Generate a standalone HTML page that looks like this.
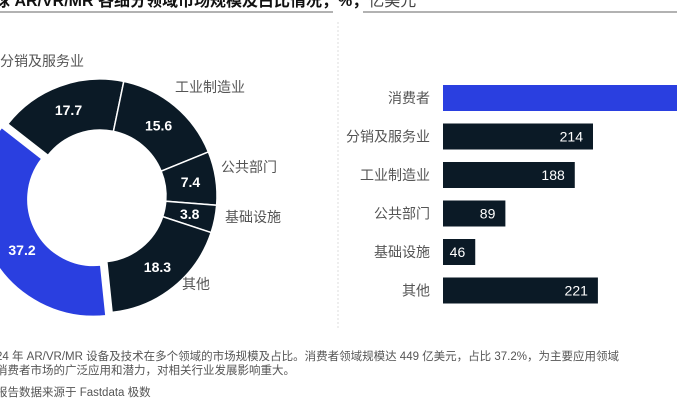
<!DOCTYPE html>
<html><head><meta charset="utf-8"><style>
body{margin:0;width:677px;height:400px;overflow:hidden;background:#fff;font-family:"Liberation Sans","Noto Sans CJK SC",sans-serif}
svg{position:absolute;left:0;top:0}
</style></head><body>
<svg width="677" height="400">
<text x="-6" y="6" font-size="16" font-weight="bold" fill="#111">球 AR/VR/MR 各细分领域市场规模及占比情况，%，<tspan font-weight="normal" fill="#444">亿美元</tspan></text>
<line x1="0" y1="12" x2="333" y2="12" stroke="#999" stroke-width="1.5"/>
<line x1="363" y1="12" x2="677" y2="12" stroke="#999" stroke-width="1.5"/>
<line x1="338" y1="22" x2="338" y2="330" stroke="#ddd" stroke-dasharray="2,2"/>
<g id="donut"></g>
<g id="bars"></g>
<text x="-4" y="360" font-size="11.5" fill="#555">24 年 AR/VR/MR 设备及技术在多个领域的市场规模及占比。消费者领域规模达 449 亿美元，占比 37.2%，为主要应用领域</text>
<text x="-4" y="374" font-size="11.5" fill="#555">消费者市场的广泛应用和潜力，对相关行业发展影响重大。</text>
<text x="-4" y="396" font-size="11.5" fill="#555">报告数据来源于 Fastdata 极数</text>
</svg>
<script>
const NS="http://www.w3.org/2000/svg";
const donutCats=["分销及服务业","工业制造业","公共部门","基础设施","其他","消费者"];
const donutVals=[17.7,15.6,7.4,3.8,18.3,37.2];
const barCats=["消费者","分销及服务业","工业制造业","公共部门","基础设施","其他"];
const barVals=[449,214,188,89,46,221];
const barLabels=["449","214","188","89","46","221"];

function mk(tag,attrs,parent){const e=document.createElementNS(NS,tag);for(const k in attrs)e.setAttribute(k,attrs[k]);parent.appendChild(e);return e;}
// donut
const cx=100,cy=196,ro=117,ri=66,start=-52;
const dg=document.getElementById('donut');
const total=donutVals.reduce((a,b)=>a+b,0);
const labelPos=[[0,66,"start"],[175,92,"start"],[221,172,"start"],[225,222,"start"],[182,289,"start"],[0,0,"start"]];
let a0=start;
function pt(r,deg,ox,oy){const t=deg*Math.PI/180;return [cx+ox+r*Math.sin(t),cy+oy-r*Math.cos(t)];}
donutVals.forEach((v,i)=>{
  const a1=a0+v/total*360;
  const mid=(a0+a1)/2;
  const isBlue=i===5;
  const off=isBlue?7:0;
  const ox=off*Math.sin(mid*Math.PI/180),oy=-off*Math.cos(mid*Math.PI/180);
  const [x1,y1]=pt(ro,a0,ox,oy),[x2,y2]=pt(ro,a1,ox,oy),[x3,y3]=pt(ri,a1,ox,oy),[x4,y4]=pt(ri,a0,ox,oy);
  const large=(a1-a0)>180?1:0;
  const p=mk('path',{d:`M${x1},${y1}A${ro},${ro} 0 ${large} 1 ${x2},${y2}L${x3},${y3}A${ri},${ri} 0 ${large} 0 ${x4},${y4}Z`,fill:isBlue?'#2a3fe0':'#0b1a26',stroke:'#fff','stroke-width':1.5},dg);
  
  
  const [tx,ty]=pt((ro+ri)/2,mid,ox,oy);
  const t=mk('text',{x:isBlue?22:tx,y:(isBlue?250:ty)+5,'font-size':14,'font-weight':'bold',fill:'#fff','text-anchor':'middle'},dg);
  t.textContent=v.toFixed(1);
  
  
  if(!isBlue){const lp=labelPos[i];const l=mk('text',{x:lp[0],y:lp[1],'font-size':14,fill:'#555'},dg);l.textContent=donutCats[i];
  
  }
  a0=a1;
});
// bars
const bg=document.getElementById('bars');
const x0=443,scale=150/214,barH=26,firstC=98,step=38.5;
function xs(v){return x0+v*scale;}
barVals.forEach((v,i)=>{
  const cyb=firstC+i*step;
  const r=mk('rect',{x:x0,y:cyb-barH/2,width:xs(v)-x0,height:barH,fill:i===0?'#2a3fe0':'#0b1a26'},bg);
  
  
  const l=mk('text',{x:430,y:cyb+5,'font-size':14,fill:'#555','text-anchor':'end'},bg);l.textContent=barCats[i];
  
  
  if(i>0){const t=mk('text',{x:xs(v)-10,y:cyb+5,'font-size':14,fill:'#fff','text-anchor':'end'},bg);t.textContent=barLabels[i];
  
  }
});
</script>
</body></html>
